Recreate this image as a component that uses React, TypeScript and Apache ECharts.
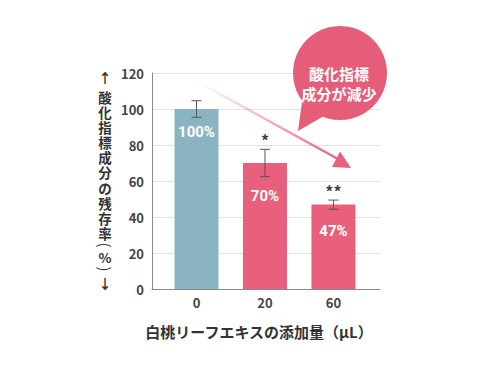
import React, { useEffect, useRef } from "react";
import * as echarts from "echarts";

const categories = ["0", "20", "60"];
const values = [100, 70, 47];
const errLow = [95.4, 62.4, 44.3];
const errHigh = [104.6, 77.6, 49.4];
const significance = ["", "*", "**"];
const yTicks = [0, 20, 40, 60, 80, 100, 120];
const yName = ["↑", "酸", "化", "指", "標", "成", "分", "の", "残", "存", "率", "(", "%", ")", "↓"];
const xName = "白桃リーフエキスの添加量（μL）";
const bubbleLines = ["酸化指標", "成分が減少"];

const BLUE = "#8AB4C2";
const PINK = "#E8607B";
const FONT = "'Noto Sans CJK JP', 'Noto Sans', sans-serif";
const NUMFONT = "Roboto, 'Noto Sans', sans-serif";
const labelDrop = [15, 25, 19];
const yNameY = [77, 97, 112, 127, 142, 157, 172, 188, 203, 218, 233, 245, 257, 269, 283];

export default function App() {
  const ref = useRef<HTMLDivElement>(null);
  useEffect(() => {
    const chart = echarts.init(ref.current!, null, { renderer: "svg" });
    const barData = values.map((v, i) => ({
      value: [i, v],
      itemStyle: { color: i === 0 ? BLUE : PINK },
      label: { distance: labelDrop[i] },
    }));
    const errData = values.map((_, i) => [i, errLow[i], errHigh[i]]);
    const yNameTexts = yName.map((ch, i) => {
      const isParen = ch === "(" || ch === ")";
      return {
        type: "text",
        x: 105,
        y: yNameY[i],
        rotation: isParen ? -Math.PI / 2 : 0,
        style: {
          text: ch,
          fill: "#333",
          fontSize: isParen ? 15 : 13.5,
          lineHeight: 12,
          fontWeight: isParen ? "normal" : "bold",
          fontFamily: FONT,
          align: "center",
          verticalAlign: "middle",
        },
      };
    });
    chart.setOption({
      animation: false,
      textStyle: { fontFamily: FONT },
      grid: { left: 152, right: 110, top: 73, bottom: 79 },
      xAxis: {
        type: "value",
        min: -0.65,
        max: 2.68,
        splitLine: { show: false },
        axisLine: { show: true, onZero: false, lineStyle: { color: "#8a8a8a", width: 1 } },
        axisTick: { show: false },
        axisLabel: {
          customValues: [0, 1, 2],
          formatter: (v: number) => categories[Math.round(v)] ?? "",
          color: "#444",
          fontSize: 13,
          fontWeight: "bold",
          fontFamily: FONT,
          margin: 7,
        },
      },
      yAxis: {
        type: "value",
        min: 0,
        max: 120,
        interval: 20,
        axisLine: { show: true, onZero: false, lineStyle: { color: "#8a8a8a", width: 1 } },
        axisTick: { show: false },
        splitLine: { show: true, lineStyle: { color: "#e2e2e2", width: 1 } },
        axisLabel: {
          formatter: (v: number) => (yTicks.includes(v) ? String(v) : ""),
          color: "#444",
          fontSize: 13,
          fontWeight: "bold",
          fontFamily: FONT,
          margin: 8,
        },
      },
      series: [
        {
          type: "bar",
          barWidth: 44,
          data: barData,
          label: {
            show: true,
            position: "insideTop",
            formatter: (p: any) => `${p.value[1]}%`,
            color: "#fff",
            fontSize: 15,
            fontWeight: "bold",
            fontFamily: NUMFONT,
          },
          z: 2,
        },
        {
          type: "custom",
          data: errData,
          z: 3,
          renderItem: (params: any, api: any) => {
            const x = api.value(0);
            const lo = api.coord([x, api.value(1)]);
            const hi = api.coord([x, api.value(2)]);
            const cap = 5;
            const st = { stroke: "#555", lineWidth: 1 };
            const idx = params.dataIndex;
            return {
              type: "group",
              children: [
                { type: "line", shape: { x1: hi[0], y1: hi[1], x2: lo[0], y2: lo[1] }, style: st },
                { type: "line", shape: { x1: hi[0] - cap, y1: hi[1], x2: hi[0] + cap, y2: hi[1] }, style: st },
                { type: "line", shape: { x1: lo[0] - cap, y1: lo[1], x2: lo[0] + cap, y2: lo[1] }, style: st },
                {
                  type: "text",
                  x: hi[0],
                  y: hi[1] - 1,
                  style: {
                    text: significance[idx],
                    fill: "#444",
                    fontSize: 16,
                    fontWeight: "bold",
                    fontFamily: FONT,
                    align: "center",
                    verticalAlign: "bottom",
                  },
                },
              ],
            };
          },
        },
      ],
      graphic: [
        ...yNameTexts,
        {
          type: "text",
          x: 259,
          y: 331,
          style: {
            text: xName,
            fill: "#333",
            fontSize: 15,
            fontWeight: "bold",
            fontFamily: FONT,
            align: "center",
            verticalAlign: "middle",
          },
        },
        {
          type: "line",
          shape: { x1: 198, y1: 82, x2: 338, y2: 159 },
          style: {
            lineWidth: 2.5,
            stroke: new echarts.graphic.LinearGradient(0, 0, 1, 1, [
              { offset: 0, color: "rgba(232,96,123,0)" },
              { offset: 1, color: "rgba(232,96,123,1)" },
            ]),
          },
          z: 10,
        },
        {
          type: "polygon",
          shape: { points: [[351, 168], [340, 151.5], [332, 167]] },
          style: { fill: PINK },
          z: 10,
        },
        {
          type: "polygon",
          shape: { points: [[302, 102], [298, 131], [324, 116]] },
          style: { fill: "#E55D79" },
          z: 11,
        },
        {
          type: "circle",
          shape: { cx: 340, cy: 73, r: 47 },
          style: { fill: "#E55D79" },
          z: 11,
        },
        {
          type: "text",
          x: 339,
          y: 73,
          style: {
            text: bubbleLines[0],
            fill: "#fff",
            fontSize: 15,
            fontWeight: "bold",
            fontFamily: FONT,
            align: "center",
            verticalAlign: "middle",
          },
          z: 12,
        },
        {
          type: "text",
          x: 339,
          y: 93,
          style: {
            text: bubbleLines[1],
            fill: "#fff",
            fontSize: 15,
            fontWeight: "bold",
            fontFamily: FONT,
            align: "center",
            verticalAlign: "middle",
          },
          z: 12,
        },
      ],
    });
    return () => chart.dispose();
  }, []);
  return (
    <div
      ref={ref}
      style={{ position: "absolute", left: 0, top: 0, width: 490, height: 368 }}
    />
  );
}
